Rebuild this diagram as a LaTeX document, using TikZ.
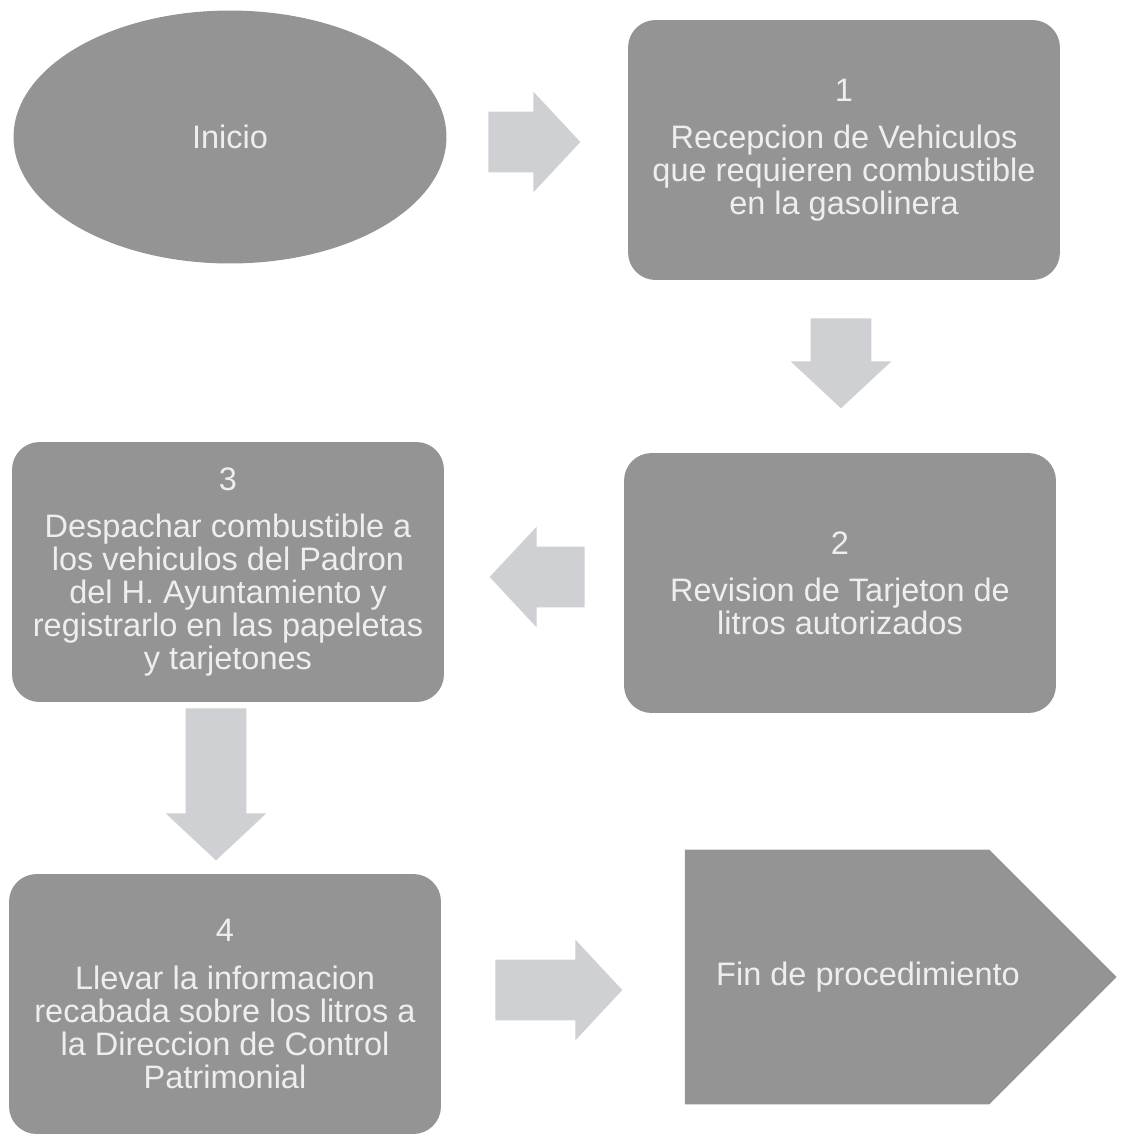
\documentclass[tikz,border=0pt]{standalone}
\usepackage{fontspec}
\setmainfont{Liberation Sans}
\usetikzlibrary{positioning, shapes.geometric, shapes.arrows, shapes.symbols, calc}
\definecolor{boxgray}{RGB}{148,148,148}
\definecolor{arrowgray}{RGB}{206,208,211}
\definecolor{textgray}{RGB}{238,238,238}

\begin{document}
\begin{tikzpicture}[
    x=0.02cm, y=-0.02cm,
    every node/.style={font=\fontsize{18.5}{18.8}\selectfont, text=textgray},
    startnode/.style={ellipse, fill=boxgray, minimum width=8.66cm, minimum height=5.06cm},
    procbox/.style={rectangle, rounded corners=0.55cm, fill=boxgray, minimum width=8.64cm, minimum height=5.2cm, align=center},
    endnode/.style={signal, signal to=east, signal pointer angle=90, fill=boxgray, minimum width=8.64cm, minimum height=5.1cm},
    blockarrow/.style={single arrow, fill=arrowgray, anchor=tail, inner xsep=0pt, inner ysep=0.6cm, minimum width=2cm, single arrow head extend=0.4cm, single arrow tip angle=94},
    downarrow/.style={blockarrow, shape border rotate=270, inner xsep=0.6cm, inner ysep=0pt}]

  \useasboundingbox (0,0) rectangle (1128,1137);

  \node[startnode] (nStart) at (230,137) {Inicio};
  \node[procbox] (nRecep)  at (844,150)  {1\\[8pt]Recepcion de Vehiculos\\que requieren combustible\\en la gasolinera};
  \node[procbox] (nRev)    at (840,583)  {2\\[8pt]Revision de Tarjeton de\\litros autorizados};
  \node[procbox] (nDesp)   at (228,572)  {3\\[8pt]Despachar combustible a\\los vehiculos del Padron\\del H. Ayuntamiento y\\registrarlo en las papeletas\\y tarjetones};
  \node[procbox] (nLlevar) at (225,1004) {4\\[8pt]Llevar la informacion\\recabada sobre los litros a\\la Direccion de Control\\Patrimonial};
  \node[endnode, label={[xshift=0.62cm]center:Fin de procedimiento}] (nEnd) at (837,977) {};

  % flechas entre pasos
  \node[blockarrow, minimum height=1.84cm] (aStart) at (488,142) {};
  \node[downarrow, minimum height=1.8cm] (aRecep) at (841,318) {};
  \node[blockarrow, minimum height=1.9cm, shape border rotate=180] (aRev) at (585,577) {};
  \node[downarrow, minimum height=3.04cm] (aDesp) at (216,708) {};
  \node[blockarrow, minimum height=2.54cm] (aLlevar) at (495,990) {};
\end{tikzpicture}
\end{document}
